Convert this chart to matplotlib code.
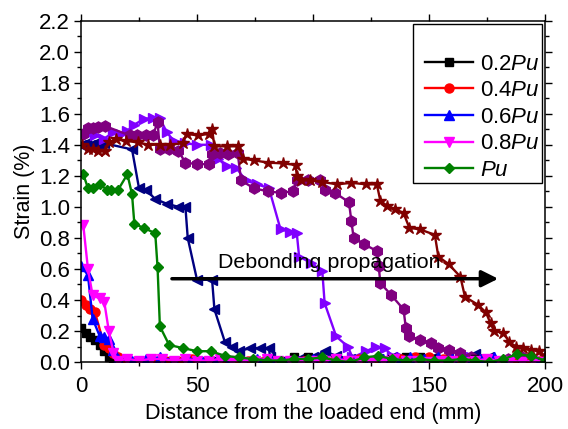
import numpy as np
import matplotlib
matplotlib.use('Agg')
import matplotlib.pyplot as plt
from matplotlib.ticker import MultipleLocator
from matplotlib.path import Path

plt.rcParams['font.family'] = ['Liberation Sans', 'DejaVu Sans']
plt.rcParams['mathtext.fontset'] = 'custom'
plt.rcParams['mathtext.rm'] = 'Liberation Sans'
plt.rcParams['mathtext.it'] = 'Liberation Sans:italic'

# 0.2Pu
x_02 = [0, 2, 4, 6, 8, 10, 12, 14,
        20, 26, 32, 38, 44, 50, 56, 62, 68, 74, 80, 86, 92, 98, 104, 110, 116,
        122, 128, 134, 140, 146, 152, 158, 164, 170, 176, 182, 188, 194, 200]
y_02 = [0.22, 0.19, 0.16, 0.14, 0.11, 0.07, 0.03, 0.00,
        0.01, 0.00, 0.01, 0.01, 0.00, 0.01, 0.01, 0.00, 0.01, 0.01, 0.02, 0.01, 0.03, 0.03, 0.01, 0.02, 0.01,
        0.00, 0.01, 0.02, 0.03, 0.03, 0.02, 0.01, 0.01, 0.02, 0.01, 0.00, 0.01, 0.01, 0.00]

# 0.4Pu
x_04 = [0, 2, 4, 6, 10, 12, 14, 16, 19,
        24, 30, 36, 42, 48, 54, 60, 66, 72, 78, 84, 90, 96, 102, 108, 114, 120, 126,
        132, 138, 144, 150, 156, 162, 168, 174, 180, 186, 192, 198]
y_04 = [0.40, 0.37, 0.34, 0.32, 0.11, 0.09, 0.06, 0.03, 0.02,
        0.01, 0.00, 0.01, 0.01, 0.02, 0.01, 0.00, 0.01, 0.01, 0.00, 0.01, 0.00, 0.01, 0.01, 0.00, 0.01, 0.02, 0.01,
        0.00, 0.02, 0.03, 0.03, 0.02, 0.01, 0.01, 0.00, 0.01, 0.01, 0.00, 0.01]

# 0.6Pu
x_06 = [0, 3, 5, 8, 10, 12, 14, 16,
        22, 28, 34, 40, 46, 52, 58, 64, 70, 76, 82, 88, 94, 100, 106, 112, 118,
        124, 130, 136, 142, 148, 154, 160, 166, 172, 178, 184, 190, 196]
y_06 = [0.62, 0.56, 0.28, 0.17, 0.16, 0.15, 0.08, 0.02,
        0.01, 0.02, 0.03, 0.01, 0.02, 0.01, 0.00, 0.01, 0.01, 0.02, 0.01, 0.00, 0.01, 0.02, 0.01, 0.00, 0.01,
        0.01, 0.02, 0.01, 0.03, 0.02, 0.03, 0.02, 0.01, 0.02, 0.03, 0.01, 0.00, 0.01]

# 0.8Pu
x_08 = [1, 3, 5, 8, 10, 12, 14, 16,
        20, 25, 30, 35, 40, 45, 50, 55, 60, 65, 70, 75, 80, 85, 90, 95, 100, 105, 110,
        115, 120, 125, 130, 135, 140, 145, 150, 155, 160, 165, 170, 175, 180, 185, 190, 195, 200]
y_08 = [0.88, 0.60, 0.43, 0.41, 0.39, 0.20, 0.06, 0.01,
        0.02, 0.01, 0.02, 0.02, 0.01, 0.02, 0.01, 0.01, 0.02, 0.01, 0.00, 0.01, 0.02, 0.01, 0.01, 0.00, 0.01, 0.01, 0.02,
        0.01, 0.01, 0.00, 0.01, 0.02, 0.01, 0.01, 0.00, 0.01, 0.01, 0.00, 0.01, 0.02, 0.01, 0.01, 0.00, 0.01, 0.00]

# Pu
x_10 = [1, 3, 5, 8, 11, 13, 16, 20, 22, 23, 27, 32, 33, 34, 38, 44, 50, 56, 62, 68,
        74, 80, 86, 92, 98, 104, 110, 116, 122, 128, 134, 140, 146, 152, 158, 164, 170, 176, 182, 188, 194, 200]
y_10 = [1.21, 1.12, 1.12, 1.15, 1.11, 1.11, 1.11, 1.21, 1.08, 0.89, 0.865, 0.83, 0.61, 0.23, 0.11, 0.09, 0.07, 0.07, 0.04, 0.03,
        0.02, 0.01, 0.01, 0.02, 0.02, 0.03, 0.01, 0.00, 0.03, 0.04, 0.02, 0.01, 0.02, 0.01, 0.01, 0.02, 0.01, 0.00, 0.02, 0.05, 0.04, 0.01]

# unlabelled curves (higher loads)
x_navy = [0, 2, 4, 6, 8, 10, 22, 25, 28, 32, 37, 42, 45, 46, 50, 56.5, 57.5, 62, 65, 68, 73, 77, 81, 81.5,
          88, 94, 100, 105, 110, 116, 122, 128, 134, 140, 146, 152, 158, 164, 170, 176, 182, 188, 194, 200]
y_navy = [1.40, 1.41, 1.40, 1.41, 1.40, 1.41, 1.37, 1.12, 1.11, 1.05, 1.02, 1.00, 1.00, 0.80, 0.53, 0.53, 0.34, 0.13, 0.10, 0.07, 0.09, 0.09, 0.09, 0.03,
          0.01, 0.02, 0.03, 0.07, 0.04, 0.02, 0.01, 0.02, 0.03, 0.01, 0.02, 0.03, 0.04, 0.02, 0.05, 0.03, 0.01, 0.02, 0.01, 0.01]

x_violet = [0, 3, 6, 10, 14, 17, 20, 23, 27, 31, 34, 37, 40, 45, 50, 56, 59, 63, 67, 71, 76, 81, 86, 90, 93,
            94, 99, 104, 105, 110, 115, 117, 123, 127, 131, 134, 138,
            144, 150, 156, 162, 168, 174, 180, 186, 192, 198]
y_violet = [1.46, 1.47, 1.46, 1.44, 1.48, 1.47, 1.49, 1.53, 1.565, 1.575, 1.57, 1.48, 1.425, 1.41, 1.40, 1.40, 1.31, 1.26, 1.25, 1.17, 1.145, 1.12, 0.855, 0.84, 0.83,
            0.68, 0.64, 0.585, 0.38, 0.165, 0.10, 0.03, 0.07, 0.10, 0.09, 0.04, 0.03,
            0.02, 0.01, 0.02, 0.01, 0.03, 0.02, 0.01, 0.02, 0.01, 0.01]

x_purple = [1, 3, 5, 7.5, 10.5, 21, 24, 28, 31, 33, 34, 38, 42, 45, 50, 55, 56.5, 60, 63.5, 67.5,
            69, 74.5, 80.5, 86, 91.5, 93, 98, 103, 105, 109.5, 115.5, 116.5, 117.5, 122, 127.5,
            128.3, 129, 133.5, 139, 140, 141.5, 146, 151, 154, 158.5, 163.5, 168, 172.5,
            178, 184, 190, 196, 200]
y_purple = [1.47, 1.51, 1.51, 1.515, 1.52, 1.46, 1.46, 1.46, 1.46, 1.545, 1.37, 1.37, 1.36, 1.285, 1.275, 1.275, 1.34, 1.35, 1.34, 1.35,
            1.17, 1.12, 1.10, 1.09, 1.10, 1.17, 1.17, 1.17, 1.11, 1.09, 1.03, 0.91, 0.80, 0.76, 0.715,
            0.62, 0.51, 0.435, 0.34, 0.22, 0.165, 0.145, 0.12, 0.09, 0.08, 0.06, 0.03, 0.015,
            0.01, 0.02, 0.03, 0.01, 0.01]

x_dred = [0.5, 3, 5, 7.5, 10.5, 12, 15, 19.5, 24.5, 29, 34, 38.5, 44, 45.5, 50.5, 55, 56.5, 57.5, 63, 67.5,
          70, 74.5, 80.5, 87, 92.5, 93, 95, 98.5, 104, 110.5, 116.5, 123, 127.5, 129, 132,
          135.5, 139, 141.5, 146, 152.5, 154, 158.5, 163.5, 165.5, 171, 174.5, 176.5, 178, 182, 184.5,
          187.5, 190.5, 194, 197.5, 200]
y_dred = [1.40, 1.37, 1.37, 1.36, 1.36, 1.415, 1.435, 1.425, 1.415, 1.40, 1.40, 1.40, 1.41, 1.47, 1.46, 1.47, 1.50, 1.39, 1.39, 1.39,
          1.31, 1.30, 1.285, 1.28, 1.27, 1.20, 1.17, 1.17, 1.16, 1.145, 1.155, 1.145, 1.145, 1.04, 1.005,
          0.985, 0.96, 0.865, 0.855, 0.82, 0.68, 0.63, 0.55, 0.42, 0.37, 0.32, 0.25, 0.20, 0.19, 0.13,
          0.10, 0.09, 0.08, 0.07, 0.04]

fig = plt.figure(figsize=(5.68, 4.29), dpi=100)
ax = fig.add_axes([0.1426, 0.156, 0.817, 0.796])

lw = 1.7
ms = 7

# background curves first
ax.plot(x_navy, y_navy, color='#000080', marker='<', lw=lw, ms=ms)
ax.plot(x_violet, y_violet, color='#8000ff', marker='>', lw=lw, ms=ms)
ax.plot(x_purple, y_purple, color='#800080', marker='h', lw=lw, ms=ms + 1)
ax.plot(x_dred, y_dred, color='#800000', marker='*', lw=lw, ms=ms + 2)

h02, = ax.plot(x_02, y_02, color='black', marker='s', lw=lw, ms=ms - 1, label='0.2$\\it{Pu}$')
h04, = ax.plot(x_04, y_04, color='#ff0000', marker='o', lw=lw, ms=ms - 0.5, label='0.4$\\it{Pu}$')
h06, = ax.plot(x_06, y_06, color='#0000ff', marker='^', lw=lw, ms=ms, label='0.6$\\it{Pu}$')
h08, = ax.plot(x_08, y_08, color='#ff00ff', marker='v', lw=lw, ms=ms, label='0.8$\\it{Pu}$')
h10, = ax.plot(x_10, y_10, color='#008000', marker='D', lw=lw, ms=ms - 1.5, label='$\\it{Pu}$')

ax.annotate('', xy=(181, 0.537), xytext=(38, 0.537),
            arrowprops=dict(arrowstyle='-|>', color='black', lw=2.5, mutation_scale=25))
ax.text(107, 0.64, 'Debonding propagation', fontsize=15.4, ha='center', va='center')

ax.set_xlim(0, 200)
ax.set_ylim(0, 2.2)
ax.xaxis.set_major_locator(MultipleLocator(50))
ax.xaxis.set_minor_locator(MultipleLocator(25))
ax.yaxis.set_major_locator(MultipleLocator(0.2))
ax.yaxis.set_minor_locator(MultipleLocator(0.1))
ax.yaxis.set_major_formatter(matplotlib.ticker.FormatStrFormatter('%.1f'))
ax.tick_params(which='both', direction='out', top=True, right=True, labelsize=16, width=1)
ax.tick_params(which='major', length=5, pad=3)
ax.tick_params(which='minor', length=3)
ax.tick_params(axis='x', which='major', pad=5)
for s in ax.spines.values():
    s.set_linewidth(1.1)

ax.set_xlabel('Distance from the loaded end (mm)', fontsize=15.5, labelpad=4)
ax.set_ylabel('Strain (%)', fontsize=15.5, labelpad=3)

leg = ax.legend(handles=[h02, h04, h06, h08, h10], loc='upper right', fontsize=16,
                title=' ', title_fontsize=17, frameon=True, fancybox=False,
                edgecolor='black', framealpha=1, handlelength=2.15, handletextpad=0.3,
                labelspacing=0.25, borderaxespad=0.15, borderpad=0.1, numpoints=1)


# legend frame a bit wider on the left than the uniform pad allows
def wide_box(x0, y0, width, height, mutation_size):
    l, r, b, t = x0 - 10, x0 + width, y0, y0 + height
    return Path([(l, b), (r, b), (r, t), (l, t), (l, b)], closed=True)


leg.get_frame().set_boxstyle(wide_box)
leg.get_frame().set_linewidth(1.0)

fig.savefig('out.png', dpi=100)
